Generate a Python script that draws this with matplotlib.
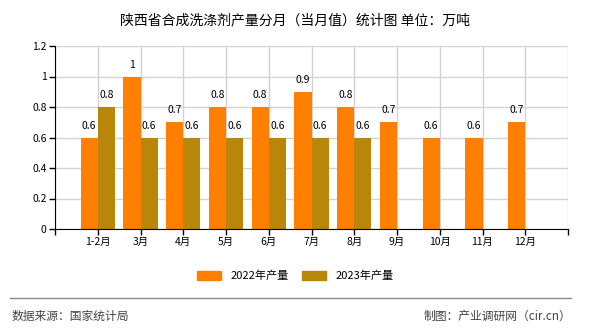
import matplotlib
matplotlib.use("Agg")
import matplotlib.pyplot as plt
from matplotlib.patches import Patch
from matplotlib.lines import Line2D

plt.rcParams['font.family'] = ['Noto Sans CJK SC', 'DejaVu Sans']

# 数据
months = ["1-2月", "3月", "4月", "5月", "6月", "7月", "8月", "9月", "10月", "11月", "12月"]
val_2022 = [0.6, 1, 0.7, 0.8, 0.8, 0.9, 0.8, 0.7, 0.6, 0.6, 0.7]
val_2023 = [0.8, 0.6, 0.6, 0.6, 0.6, 0.6, 0.6]
yticks = [0, 0.2, 0.4, 0.6, 0.8, 1, 1.2]
ylabels = ["0", "0.2", "0.4", "0.6", "0.8", "1", "1.2"]

c22 = "#FF8000"
c23 = "#B8860B"
w = 0.4

fig = plt.figure(figsize=(5.9, 3.3), dpi=100)
ax = fig.add_axes([55 / 590, 1 - 229 / 330, 513 / 590, 183 / 330])

# 2022年在刻度左侧, 2023年在刻度右侧
x22 = [i + 1 for i in range(len(val_2022))]
x23 = [i + 1 for i in range(len(val_2023))]
ax.bar([x - w for x in x22], val_2022, width=w, align="edge", color=c22, zorder=2)
ax.bar(x23, val_2023, width=w, align="edge", color=c23, zorder=2)

def fmt(v):
    return "1" if v == 1 else f"{v:.1f}"

for x, v in zip(x22, val_2022):
    ax.text(x - w / 2, v + 0.045, fmt(v), ha="center", va="bottom", fontsize=7.5)
for x, v in zip(x23, val_2023):
    ax.text(x + w / 2, v + 0.045, fmt(v), ha="center", va="bottom", fontsize=7.5)

ax.set_xlim(0, 12)
ax.set_ylim(0, 1.2)
ax.set_yticks(yticks)
ax.set_yticklabels(ylabels, fontsize=7.5)
ax.set_xticks(range(13))
ax.set_xticklabels([""] + months + [""], fontsize=7.5)
ax.grid(True, color="#d3d3d3", linewidth=1, zorder=0)
ax.set_axisbelow(True)
for s in ["top", "right"]:
    ax.spines[s].set_visible(False)
ax.tick_params(length=4, width=1, pad=2)

fig.text(0.5, 1 - 20 / 330, "陕西省合成洗涤剂产量分月（当月值）统计图 单位：万吨",
         ha="center", va="center", fontsize=10)

# 图例
handles = [Patch(color=c22), Patch(color=c23)]
fig.legend(handles, ["2022年产量", "2023年产量"], loc="center",
           bbox_to_anchor=(0.5, 1 - 276 / 330), ncol=2, frameon=False,
           fontsize=8, handlelength=2.2, handleheight=0.9, columnspacing=1.2)

# 底部分隔线与来源
fig.add_artist(Line2D([10 / 590, 571 / 590], [1 - 298 / 330] * 2,
                      color="#888888", linewidth=1))
fig.text(12 / 590, 1 - 316 / 330, "数据来源：国家统计局", ha="left", va="center",
         fontsize=8.5, color="#444444")
fig.text(571 / 590, 1 - 316 / 330, "制图：产业调研网（cir.cn）", ha="right",
         va="center", fontsize=8.5, color="#444444")

fig.savefig("out.png", dpi=100)
